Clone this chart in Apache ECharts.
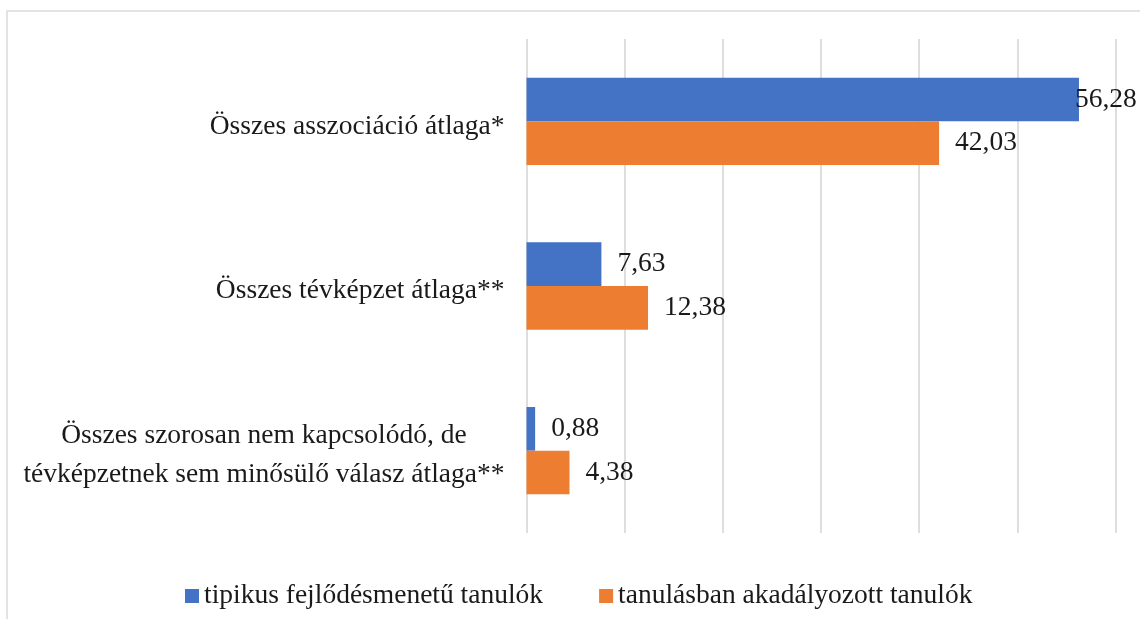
<!DOCTYPE html>
<html>
<head>
<meta charset="utf-8">
<title>chart</title>
<script src="https://cdn.jsdelivr.net/npm/echarts@6/dist/echarts.min.js"></script>
<style>
  html, body { margin: 0; padding: 0; background: #fff; }
  #main { width: 1140px; height: 619px; }
</style>
</head>
<body>
<div id="main"></div>
<script>
// kategóriák (felülről lefelé)
const CATEGORIES = [
  'Összes asszociáció átlaga*',
  'Összes tévképzet átlaga**',
  'Összes szorosan nem kapcsolódó, de\ntévképzetnek sem minősülő válasz átlaga**'
];
const SERIES_NAMES = ['tipikus fejlődésmenetű tanulók', 'tanulásban akadályozott tanulók'];
const TYPICAL = [56.28, 7.63, 0.88];
const IMPAIRED = [42.03, 12.38, 4.38];

const COLOR = ['#4472c4', '#ed7d31'];
const FONT = '"Liberation Serif", "Times New Roman", serif';
const FONT_SIZE = 27.5;
const TEXT_COLOR = '#1a1a1a';

// 56,28 felirat a sáv végébe csúszik, mint az eredetin
const LABEL_DIST = [[-4, 16, 16], [16, 16, 16]];

function fmt(v) {
  return v.toFixed(2).replace('.', ',');
}

function makeSeries(idx, values) {
  return {
    name: SERIES_NAMES[idx],
    type: 'bar',
    barGap: '0%',
    barCategoryGap: '47%',
    itemStyle: { color: COLOR[idx] },
    data: values.map((v, i) => ({
      value: v,
      label: { distance: LABEL_DIST[idx][i] }
    })),
    label: {
      show: true,
      position: 'right',
      fontFamily: FONT,
      fontSize: FONT_SIZE,
      color: TEXT_COLOR,
      padding: [4, 0, 0, 0],
      formatter: p => fmt(p.value)
    }
  };
}

let myChart = echarts.init(document.getElementById('main'));
let option = {
  animation: false,
  color: COLOR,
  textStyle: { fontFamily: FONT },
  graphic: [{
    type: 'rect',
    shape: { x: 7, y: 11, width: 1300, height: 800 },
    style: { fill: 'none', stroke: '#e3e3e3', lineWidth: 2 },
    silent: true
  }],
  grid: {
    left: 526.5,
    right: 24.5,
    top: 39,
    bottom: 86
  },
  legend: {
    left: 180,
    top: 577,
    itemWidth: 14,
    itemHeight: 14,
    itemGap: 56,
    icon: 'rect',
    textStyle: {
      fontFamily: FONT,
      fontSize: FONT_SIZE,
      color: TEXT_COLOR
    },
    data: SERIES_NAMES
  },
  xAxis: {
    type: 'value',
    min: 0,
    max: 60,
    interval: 10,
    axisLabel: { show: false },
    axisLine: { show: false },
    axisTick: { show: false },
    splitLine: {
      show: true,
      lineStyle: { color: '#dedede', width: 2 }
    }
  },
  yAxis: {
    type: 'category',
    inverse: true,
    data: CATEGORIES,
    axisLine: { show: false },
    axisTick: { show: false },
    axisLabel: {
      margin: 22,
      padding: [10, 0, 0, 0],
      formatter: v => v.split('\n').map(s => `{c|${s}}`).join('\n'),
      rich: {
        c: {
          align: 'center',
          fontFamily: FONT,
          fontSize: FONT_SIZE,
          lineHeight: 39,
          color: TEXT_COLOR
        }
      }
    }
  },
  series: [makeSeries(0, TYPICAL), makeSeries(1, IMPAIRED)]
};
myChart.setOption(option);
</script>
</body>
</html>
